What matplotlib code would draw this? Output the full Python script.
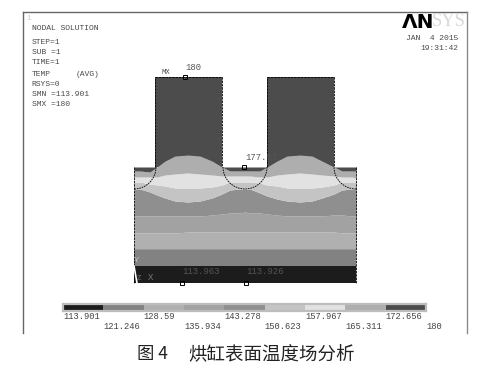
import matplotlib
matplotlib.use('Agg')
import matplotlib.pyplot as plt
from matplotlib.patches import Arc

# niveles de la barra de colores
levels = [113.901, 121.246, 128.59, 135.934, 143.278, 150.623, 157.967, 165.311, 172.656, 180]
level_labels = ['113.901', '121.246', '128.59', '135.934', '143.278', '150.623', '157.967', '165.311', '172.656', '180']
level_colors = ['#1c1c1c', '#828282', '#b0b0b0', '#a2a2a2', '#8f8f8f', '#c4c4c4', '#e2e2e2', '#aeaeae', '#4c4c4c']

# contornos (coordenadas en pixeles): borde superior de cada banda
xs = [134, 140, 150, 157, 165, 175, 188, 200, 212, 222, 230, 240, 245, 250, 260, 267, 277, 287, 300, 312, 322, 334, 342, 352, 356]
top_114 = [266] * 25
top_121 = [249] * 25
top_128 = [233, 233, 233, 233, 233, 233, 232, 232, 232, 232, 232, 232, 232, 232, 232, 232, 232, 232, 232, 232, 232, 232, 233, 233, 233]
top_136 = [216, 216, 216, 216, 216, 216, 216, 216, 215, 214, 213, 213, 212, 213, 213, 214, 215, 216, 216, 216, 216, 215, 215, 216, 216]
top_143 = [189, 189, 192, 195, 198, 201, 202, 201, 198, 194, 190, 189, 189, 189, 193, 196, 199, 201, 202, 201, 198, 194, 190, 189, 189]
top_150 = [182, 182, 184, 185, 186, 188, 188, 188, 187, 185, 182, 182, 182, 182, 183, 185, 186, 188, 188, 188, 187, 185, 182, 182, 182]
top_158 = [177, 177, 177, 177, 175, 174, 173, 174, 175, 176, 176, 176, 176, 176, 177, 177, 175, 174, 173, 174, 175, 176, 177, 177, 178]
top_165 = [171, 171, 172, 167, 161, 156, 155, 156, 161, 167, 171, 171, 171, 171, 171, 167, 161, 156, 155, 156, 161, 167, 171, 171, 171]
top_172 = [167, 167, 167, 167, 161, 156, 155, 156, 161, 167, 167, 167, 167, 167, 167, 167, 161, 156, 155, 156, 161, 167, 167, 167, 167]
band_tops = [top_114, top_121, top_128, top_136, top_143, top_150, top_158, top_165, top_172]

block_top = 167
block_bottom = 283
roller_x = [155, 267]
roller_width = 67
roller_top = 77
grooves = [(134, 0, 90), (245, 0, 180), (356, 90, 180)]
groove_r = 22

info_lines = [('NODAL SOLUTION', 28), ('STEP=1', 43), ('SUB =1', 53), ('TIME=1', 63), ('TEMP', 74),
              ('RSYS=0', 84), ('SMN =113.901', 94), ('SMX =180', 104)]
probes = [('180', 185, 77, 185, 68), ('177.57', 244, 167, 245, 157),
          ('113.963', 182, 283, 182, 272), ('113.926', 246, 283, 246, 272)]

mono = 'Liberation Mono'
txt = '#4a4a4a'
dash = (0, (3, 1))

fig = plt.figure(figsize=(4.97, 3.73), dpi=100)
ax = fig.add_axes([0, 0, 1, 1])
ax.set_xlim(0, 497)
ax.set_ylim(373, 0)
ax.axis('off')

# marco exterior
ax.plot([22.5, 22.5], [333, 12], color='#666666', lw=1)
ax.plot([22.5, 467], [12, 12], color='#666666', lw=1)
ax.plot([467, 467], [12, 333], color='#8a8a8a', lw=1)

# bandas de temperatura, cada una llega hasta el borde de la anterior
lower = [block_bottom] * len(xs)
for tops, c in zip(band_tops, level_colors):
    ax.fill_between(xs, tops, lower, color=c, lw=0, zorder=3)
    lower = tops

# rodillos: la cupula clara (banda 165) entra en ellos
for rx in roller_x:
    ax.fill_between([rx, rx + roller_width], roller_top, block_top, color=level_colors[8], lw=0, zorder=2)
    ax.plot([rx, rx, rx + roller_width, rx + roller_width], [block_top, roller_top, roller_top, block_top],
            color='black', lw=0.6, ls=dash, zorder=5)

# borde del bloque y ranuras
ax.plot([134, 134], [block_top, block_bottom], color='black', lw=0.6, ls=dash, zorder=5)
ax.plot([356, 356], [block_top, block_bottom], color='black', lw=0.6, ls=dash, zorder=5)
for gx, t1, t2 in grooves:
    ax.add_patch(Arc((gx, block_top), 2 * groove_r, 2 * groove_r, theta1=t1, theta2=t2,
                     color='black', lw=0.6, ls=(0, (2, 1)), zorder=5))

# triada de ejes
ax.plot([134, 137], [266, 283], color='white', lw=1.2, zorder=6)
ax.text(136, 260, 'Y', family=mono, fontsize=6, color='#c8c8c8', ha='center', va='center', zorder=6)
ax.text(139, 278, 'Z', family=mono, fontsize=5, color='#777777', ha='center', va='center', zorder=6)
ax.text(151, 277, 'X', family=mono, fontsize=6.5, color='#777777', ha='center', va='center', zorder=6)

# etiquetas de nodos
for label, mx, my, tx, ty in probes:
    ax.plot(mx, my, 's', mfc='none', mec='black', ms=3, mew=0.7, zorder=7, clip_on=False)
    ax.text(tx, ty, label, family=mono, fontsize=6.4, color='#555555', ha='left', va='center', zorder=7)
ax.text(162, 72, 'MX', family=mono, fontsize=5.2, color=txt, ha='left', va='center')

# texto de la solucion
ax.text(26, 18, '1', family=mono, fontsize=5.5, color='#cccccc', ha='left', va='center')
for label, y in info_lines:
    ax.text(31.5, y, label, family=mono, fontsize=5.8, color=txt, ha='left', va='center')
ax.text(76, 74, '(AVG)', family=mono, fontsize=5.8, color=txt, ha='left', va='center')

# logo y fecha
ax.text(402, 22, '\u039bN', family='DejaVu Sans', fontweight='bold', fontsize=14.5, color='black', ha='left', va='center')
ax.text(431.5, 22, 'SYS', family='Liberation Serif', fontsize=13.3, color='#d8d8d8', ha='left', va='center')
ax.text(458, 39, 'JAN  4 2015', family=mono, fontsize=5.8, color=txt, ha='right', va='center')
ax.text(458, 49, '19:31:42', family=mono, fontsize=5.8, color=txt, ha='right', va='center')

# pie de figura
cjk = ['Noto Sans CJK SC', 'DejaVu Sans']
ax.text(137, 354, '\u56fe 4', family=cjk, fontsize=12.5, color='#222222', ha='left', va='center')
ax.text(188, 354, '\u70d8\u7f38\u8868\u9762\u6e29\u5ea6\u573a\u5206\u6790', family=cjk, fontsize=13.3,
        color='#222222', ha='left', va='center')

# barra de colores
cax = fig.add_axes([63 / 497, 1 - 311 / 373, 363 / 497, 7 / 373])
cax.set_xlim(levels[0], levels[-1])
cax.set_ylim(0, 1)
cax.set_xticks([])
cax.set_yticks([])
for s in cax.spines.values():
    s.set_color('#bdbdbd')
    s.set_linewidth(1.6)
widths = [b - a for a, b in zip(levels[:-1], levels[1:])]
cax.bar(levels[:-1], 1, width=widths, align='edge', color=level_colors, lw=0)
for i, (lv, label) in enumerate(zip(levels, level_labels)):
    y = -0.85 if i % 2 == 0 else -2.15
    cax.text(lv, y, label, family=mono, fontsize=6.35, color='#444444', ha='left', va='center', clip_on=False)

fig.savefig('out.png', dpi=100)
